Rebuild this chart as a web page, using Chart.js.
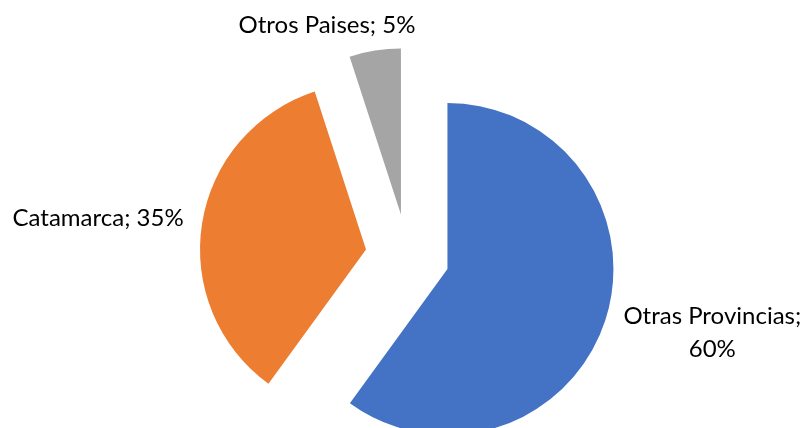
<!DOCTYPE html>
<html>
<head>
<meta charset="utf-8">
<script src="https://cdn.jsdelivr.net/npm/chart.js@4/dist/chart.umd.min.js"></script>
<style>
  html, body { margin: 0; padding: 0; background: #fff; }
  #wrap { width: 806px; height: 428px; }
</style>
</head>
<body>
<div id="wrap"><canvas id="origenChart"></canvas></div>
<script>
const categories = ['Otras Provincias', 'Catamarca', 'Otros Paises'];
const shares = [60, 35, 5];
const sliceColors = ['#4472C4', '#ED7D31', '#A5A5A5'];

// where each label block sits, relative to the middle of its slice's rim
const labelPlacement = [
    { dx: 107, dy: 12 },
    { dx: -104, dy: -5 },
    { dx: -48, dy: -25 }
];

const PIE_RADIUS = 166;
const EXPLODE = 42;
const LABEL_FONT = "24px Lato, 'Open Sans', sans-serif";
const LABEL_MAX_WIDTH = 200;
const LINE_HEIGHT = 33;

// push every slice outward along its bisector, keeping its radius and angles intact
// (the built-in arc offset also enlarges and narrows the slices)
const explodeSlices = {
    id: 'explodeSlices',
    afterDatasetUpdate(chart, args) {
        args.meta.data.forEach(arc => {
            const mid = (arc.startAngle + arc.endAngle) / 2;
            arc.x += Math.cos(mid) * EXPLODE;
            arc.y += Math.sin(mid) * EXPLODE;
        });
    }
};

function wrapLabel(ctx, text) {
    if (ctx.measureText(text).width <= LABEL_MAX_WIDTH) return [text];
    const cut = text.lastIndexOf(' ');
    return [text.slice(0, cut), text.slice(cut + 1)];
}

const outsideLabels = {
    id: 'outsideLabels',
    afterDatasetsDraw(chart) {
        const ctx = chart.ctx;
        const meta = chart.getDatasetMeta(0);
        ctx.save();
        ctx.font = LABEL_FONT;
        ctx.fillStyle = '#000';
        ctx.textAlign = 'center';
        ctx.textBaseline = 'middle';
        meta.data.forEach((arc, i) => {
            const mid = (arc.startAngle + arc.endAngle) / 2;
            const ax = arc.x + Math.cos(mid) * arc.outerRadius;
            const ay = arc.y + Math.sin(mid) * arc.outerRadius;
            const lines = wrapLabel(ctx, categories[i] + '; ' + shares[i] + '%');
            const cx = ax + labelPlacement[i].dx;
            const top = ay + labelPlacement[i].dy - (lines.length - 1) * LINE_HEIGHT / 2;
            lines.forEach((line, k) => ctx.fillText(line, cx, top + k * LINE_HEIGHT));
        });
        ctx.restore();
    }
};

new Chart(document.getElementById('origenChart'), {
    type: 'pie',
    data: {
        labels: categories,
        datasets: [{
            data: shares,
            backgroundColor: sliceColors,
            borderWidth: 0,
            offset: 0,
            hoverOffset: 0
        }]
    },
    options: {
        responsive: true,
        maintainAspectRatio: false,
        animation: false,
        radius: PIE_RADIUS,
        layout: { padding: { left: 9, right: 0, top: 84, bottom: 0 } },
        plugins: {
            legend: { display: false },
            tooltip: { enabled: false }
        }
    },
    plugins: [explodeSlices, outsideLabels]
});
</script>
</body>
</html>
